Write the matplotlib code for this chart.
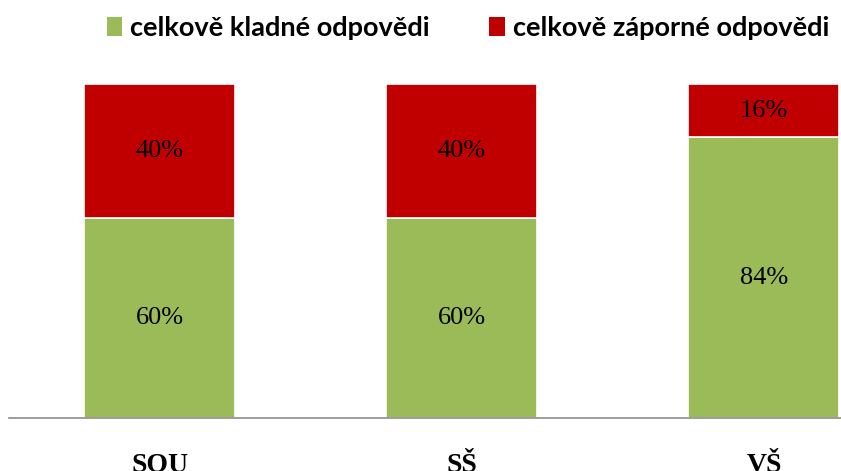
import matplotlib
matplotlib.use("Agg")
import matplotlib.pyplot as plt
from matplotlib.patches import Patch
import numpy as np

categories = ["SOU", "SŠ", "VŠ"]
kladne = [60, 60, 84]
zaporne = [40, 40, 16]
series_names = ["celkově kladné odpovědi", "celkově záporné odpovědi"]
colors = ["#9BBB59", "#C00000"]

W, H = 841, 471
fig = plt.figure(figsize=(W / 100, H / 100), dpi=100)
ax = fig.add_axes([9 / W, (H - 418) / H, 906 / W, 334 / H])

x = np.arange(len(categories))
ax.bar(x, kladne, width=0.5, color=colors[0], edgecolor="white", linewidth=1.2, zorder=2)
ax.bar(x, zaporne, width=0.5, bottom=kladne, color=colors[1], edgecolor="white", linewidth=1.2, zorder=2)

for i in range(len(categories)):
    ax.text(x[i], kladne[i] / 2, f"{kladne[i]}%", ha="center", va="center",
            fontsize=19, family="Liberation Serif", color="black")
    ax.text(x[i], kladne[i] + zaporne[i] / 2, f"{zaporne[i]}%", ha="center", va="center",
            fontsize=19, family="Liberation Serif", color="black")

ax.set_xlim(-0.5, 2.5)
ax.set_ylim(0, 100)
ax.set_yticks([])
ax.set_xticks(x)
ax.set_xticklabels(categories, family="Liberation Serif", fontsize=20, fontweight="bold")
ax.tick_params(axis="x", length=0, pad=25)
for s in ["top", "right", "left"]:
    ax.spines[s].set_visible(False)
ax.spines["bottom"].set_color("#8C8C8C")
ax.spines["bottom"].set_linewidth(1.2)

handles = [Patch(facecolor=c, edgecolor="none") for c in colors]
fig.legend(handles, series_names, loc="center left", bbox_to_anchor=(107 / W, 1 - 28 / H),
           ncol=2, frameon=False, prop={"family": "Lato", "size": 19.5, "weight": "bold"},
           handlelength=0.56, handleheight=0.7, handletextpad=0.3, columnspacing=2.2,
           borderaxespad=0, borderpad=0)

fig.savefig("out.png", dpi=100)
